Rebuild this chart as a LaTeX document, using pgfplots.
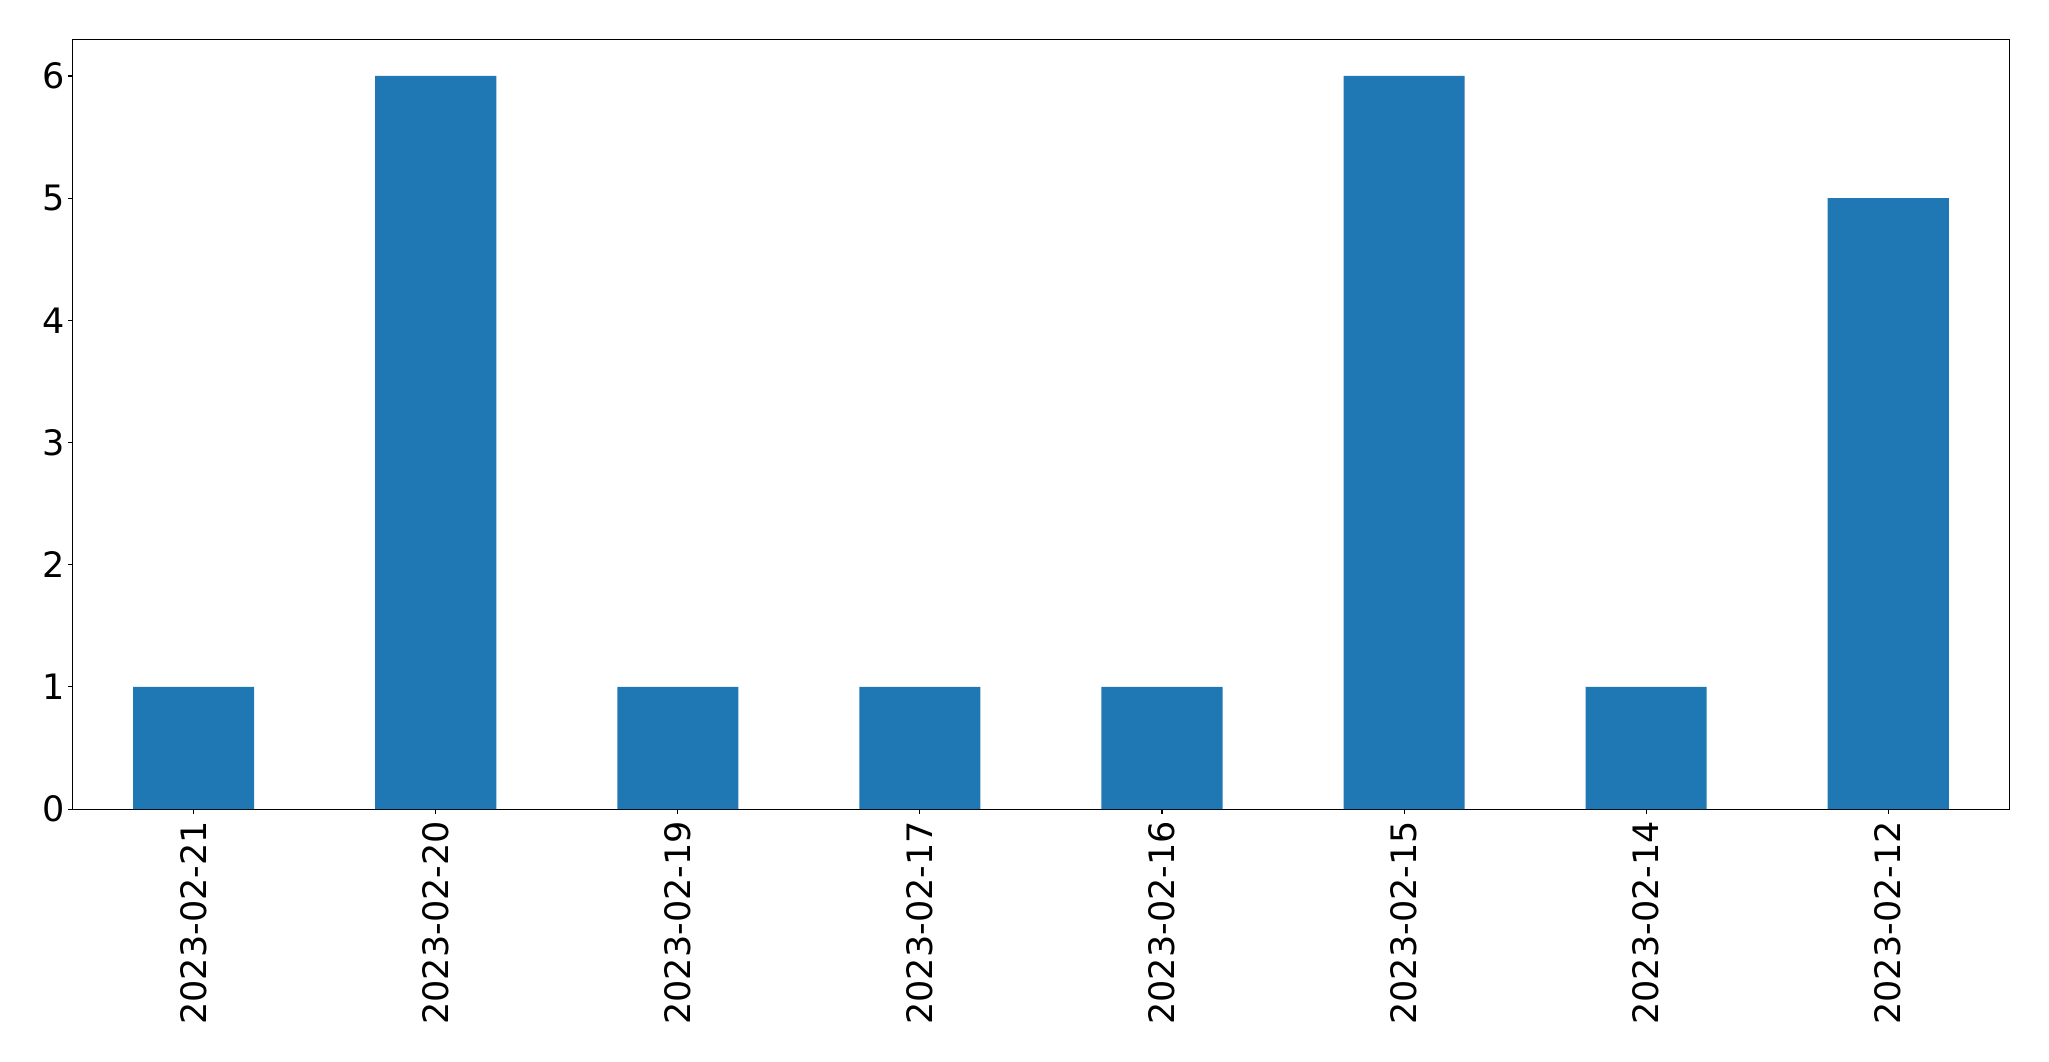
\documentclass[border=0pt]{standalone}
\usepackage{pgfplots}
\pgfplotsset{compat=1.18}
\usepackage{fontspec}
\setmainfont{DejaVu Sans}
\definecolor{mplblue}{HTML}{1F77B4}
\begin{document}
\begin{tikzpicture}
\begin{axis}[
  scale only axis,
  width=1394.4bp, height=554.2bp,
  xmin=-0.5, xmax=7.5, ymin=0, ymax=6.3,
  xtick={0,1,2,3,4,5,6,7},
  xticklabels={2023-02-21,2023-02-20,2023-02-19,2023-02-17,2023-02-16,2023-02-15,2023-02-14,2023-02-12},
  ytick={0,1,2,3,4,5,6},
  tick pos=left,
  tick align=outside,
  major tick length=3.5bp,
  tick style={line width=0.8bp, black},
  axis line style={line width=0.8bp},
  /pgf/number format/assume math mode=true,
  ticklabel style={font=\fontsize{25.2bp}{29bp}\selectfont},
  xticklabel style={rotate=90, anchor=east, inner sep=5bp},
  yticklabel style={inner sep=2bp},
]
\addplot[ybar, bar width=0.5, bar shift=0pt, fill=mplblue, draw=none]
  coordinates {(0,1) (1,6) (2,1) (3,1) (4,1) (5,6) (6,1) (7,5)};
\end{axis}
\pgfresetboundingbox
\path[use as bounding box] ([shift={(-52.3bp,-181.4bp)}]current axis.south west) rectangle ([shift={(28.6bp,28.3bp)}]current axis.north east);
\end{tikzpicture}
\end{document}
